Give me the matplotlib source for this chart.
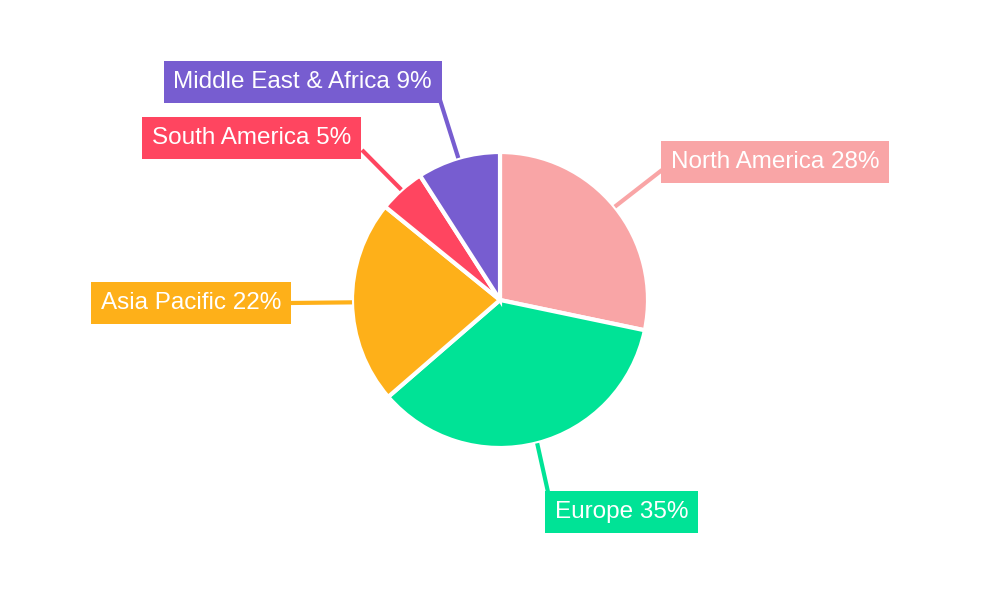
import matplotlib
matplotlib.use("Agg")
import matplotlib.pyplot as plt
import numpy as np

categories = ["North America", "Europe", "Asia Pacific", "South America", "Middle East & Africa"]
values = [28, 35, 22, 5, 9]
colors = ["#F9A5A6", "#00E396", "#FEB019", "#FF4560", "#775DD0"]

# label box anchor (pixel layout), horizontal alignment
label_pos = [(662, 438, "left"), (546, 88, "left"), (290, 297, "right"), (360, 462, "right"), (441, 518, "right")]
line_end = [(662, 430), (548, 108), (290, 297), (362, 450), (440, 500)]

fig = plt.figure(figsize=(10, 6), dpi=100)
ax = fig.add_axes([0, 0, 1, 1])
cx, cy, r = 500, 300, 148
wedges, _ = ax.pie(values, colors=colors, startangle=90, counterclock=False, center=(cx, cy), radius=r,
                   wedgeprops=dict(edgecolor="white", linewidth=3))
ax.set_xlim(0, 1000); ax.set_ylim(0, 600); ax.set_aspect("equal"); ax.axis("off")
tot = sum(values)
for w, cat, v, col, (lx, ly, ha), (ex, ey) in zip(wedges, categories, values, colors, label_pos, line_end):
    mid = np.deg2rad((w.theta1 + w.theta2) / 2)
    sx, sy = cx + r * np.cos(mid), cy + r * np.sin(mid)
    ax.plot([sx, ex], [sy, ey], color=col, lw=3, solid_capstyle="butt")
    ax.text(lx + (9 if ha == "left" else -9), ly, f"{cat} {round(v / tot * 100)}%", ha=ha, va="center",
            color="white", fontsize=17.5, family=["Liberation Sans", "DejaVu Sans"],
            bbox=dict(boxstyle="square,pad=0.4", facecolor=col, edgecolor="none"))
fig.savefig("out.png")
